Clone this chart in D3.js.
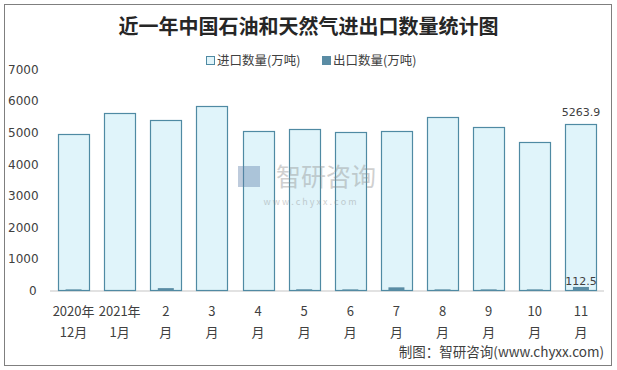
<!DOCTYPE html>
<html>
<head>
<meta charset="utf-8">
<script src="https://cdn.jsdelivr.net/npm/d3@7"></script>
<style>
  body { margin: 0; background: #fff; }
  svg text { font-family: "Microsoft YaHei", "Noto Sans CJK SC", sans-serif; }
</style>
</head>
<body>
<svg width="617" height="370"></svg>
<script>
// chart data
var months = ["2020年|12月", "2021年|1月", "2|月", "3|月", "4|月", "5|月", "6|月", "7|月", "8|月", "9|月", "10|月", "11|月"];
var imports = [4953, 5613, 5392, 5835, 5038, 5101, 5006, 5038, 5481, 5164, 4690, 5263.9];
var exports = [35, 6, 75, 6, 6, 38, 35, 100, 35, 35, 35, 112.5];
var yTicks = [0, 1000, 2000, 3000, 4000, 5000, 6000, 7000];

var svg = d3.select("svg");
var width = +svg.attr("width");
var height = +svg.attr("height");

// outer frame
svg.append("rect")
    .attr("x", 4.5).attr("y", 4.5)
    .attr("width", 607).attr("height", 361)
    .attr("fill", "#fff")
    .attr("stroke", "#7f7f7f")
    .attr("stroke-width", 1);

svg.append("text")
    .text("近一年中国石油和天然气进出口数量统计图")
    .attr("x", width / 2)
    .attr("y", 34)
    .style("text-anchor", "middle")
    .style("font-size", "20px")
    .style("font-weight", "bold")
    .style("fill", "#262626");

var xScale = d3.scaleBand()
    .domain(months)
    .range([50.5, 604])
    .paddingInner(0.33)
    .paddingOuter(0.165);

var yScale = d3.scaleLinear()
    .domain([0, 7000])
    .range([290.5, 69.3]);

// y labels
svg.append("g")
  .selectAll("text")
  .data(yTicks)
  .enter()
  .append("text")
    .text(d => d)
    .attr("x", d => d === 0 ? 29 : 8)
    .attr("y", d => yScale(d) + 4.5)
    .style("font-family", "Verdana, 'DejaVu Sans', sans-serif")
    .style("font-size", "12px")
    .style("fill", "#404040");

// baseline
svg.append("line")
    .attr("x1", 50).attr("x2", 604)
    .attr("y1", 291).attr("y2", 291)
    .attr("stroke", "#d9d9d9")
    .attr("stroke-width", 1.3);

var bw = xScale.bandwidth();

svg.append("g")
  .selectAll("rect")
  .data(imports)
  .enter()
  .append("rect")
    .attr("x", (d, i) => Math.round(xScale(months[i])) + 0.5)
    .attr("y", d => Math.round(yScale(d)) + 0.5)
    .attr("width", Math.round(bw))
    .attr("height", d => 290.5 - Math.round(yScale(d)) - 0.5)
    .attr("fill", "#e0f4fa")
    .attr("stroke", "#4f8aa3")
    .attr("stroke-width", 1.2);

var ew = 16;
svg.append("g")
  .selectAll("rect")
  .data(exports)
  .enter()
  .append("rect")
    .attr("x", (d, i) => xScale(months[i]) + bw / 2 - ew / 2)
    .attr("y", d => yScale(d))
    .attr("width", ew)
    .attr("height", d => 290.5 - yScale(d))
    .attr("fill", "#5a8ca4");

// watermark, drawn over the bars
var wm = svg.append("g").attr("opacity", 0.4);
wm.append("rect")
    .attr("x", 238).attr("y", 166).attr("width", 22).attr("height", 21)
    .attr("fill", "#5d7ea8");
wm.append("text")
    .text("智研咨询")
    .attr("x", 326).attr("y", 186)
    .style("text-anchor", "middle")
    .style("font-size", "25px")
    .style("fill", "#8c8c8c");
wm.append("text")
    .text("w w w . c h y x x . c o m")
    .attr("x", 310).attr("y", 205)
    .style("text-anchor", "middle")
    .style("font-size", "9px")
    .style("fill", "#8c8c8c");

// value labels on last month
var last = months.length - 1;
svg.append("text")
    .text(imports[last])
    .attr("x", xScale(months[last]) + bw / 2)
    .attr("y", yScale(imports[last]) - 8)
    .style("text-anchor", "middle")
    .style("font-family", "Verdana, 'DejaVu Sans', sans-serif")
    .style("font-size", "11px")
    .style("fill", "#404040");
svg.append("text")
    .text(exports[last])
    .attr("x", xScale(months[last]) + bw / 2)
    .attr("y", yScale(exports[last]) - 2)
    .style("text-anchor", "middle")
    .style("font-family", "Verdana, 'DejaVu Sans', sans-serif")
    .style("font-size", "11px")
    .style("fill", "#404040");

// x labels
var xl = svg.append("g")
  .selectAll("text")
  .data(months)
  .enter()
  .append("text")
    .attr("x", d => xScale(d) + bw / 2)
    .attr("y", 316)
    .style("text-anchor", "middle")
    .style("font-size", "13px")
    .style("fill", "#404040");
xl.append("tspan")
    .attr("x", d => xScale(d) + bw / 2)
    .text(d => d.split("|")[0]);
xl.append("tspan")
    .attr("x", d => xScale(d) + bw / 2)
    .attr("dy", 21)
    .text(d => d.split("|")[1]);

// legend
var legend = [{name: "进口数量(万吨)", fill: "#e0f4fa", stroke: "#4f8aa3", x: 206},
              {name: "出口数量(万吨)", fill: "#5a8ca4", stroke: "#5a8ca4", x: 322}];
var lg = svg.append("g")
  .selectAll("g")
  .data(legend)
  .enter()
  .append("g");
lg.append("rect")
    .attr("x", d => d.x + 0.5).attr("y", 56.5)
    .attr("width", 8).attr("height", 8)
    .attr("fill", d => d.fill)
    .attr("stroke", d => d.stroke);
lg.append("text")
    .text(d => d.name)
    .attr("x", d => d.x + 11)
    .attr("y", 65)
    .style("font-size", "12.5px")
    .style("fill", "#404040");

svg.append("text")
    .text("制图：智研咨询(www.chyxx.com)")
    .attr("x", 604)
    .attr("y", 357)
    .style("text-anchor", "end")
    .style("font-size", "13.5px")
    .style("fill", "#404040");
</script>
</body>
</html>
